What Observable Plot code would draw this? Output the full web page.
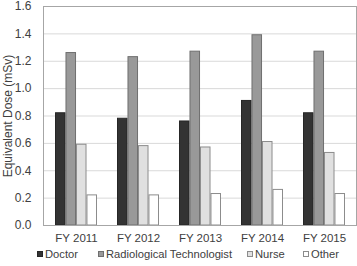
<!DOCTYPE html>
<html>
<head>
<meta charset="utf-8">
<script src="https://cdn.jsdelivr.net/npm/d3@7"></script>
<script src="https://cdn.jsdelivr.net/npm/@observablehq/plot@0.6"></script>
<style>
  html, body { margin: 0; padding: 0; background: #fff; }
  body { width: 357px; height: 266px; overflow: hidden; font-family: "Liberation Sans", Arial, sans-serif; }
  #legend { height: 21px; font-size: 11.2px; color: #404040; position: relative; }
  .item { position: absolute; display: flex; align-items: center; top: 3px; }
  .sw { width: 6px; height: 6px; box-sizing: border-box; margin-right: 2px; }
</style>
</head>
<body>
<div id="chart"></div>
<div id="legend"></div>
<script>
const years = ["FY 2011", "FY 2012", "FY 2013", "FY 2014", "FY 2015"];
const roles = ["Doctor", "Radiological Technologist", "Nurse", "Other"];
const doctor = [0.82, 0.78, 0.76, 0.91, 0.82];
const radiological = [1.26, 1.23, 1.27, 1.39, 1.27];
const nurse = [0.59, 0.58, 0.57, 0.61, 0.53];
const other = [0.22, 0.22, 0.23, 0.26, 0.23];
const yTicks = [0, 0.2, 0.4, 0.6, 0.8, 1.0, 1.2, 1.4, 1.6];
const fills = ["#333333", "#999999", "#e0e0e0", "#ffffff"];
const strokes = ["#262626", "#6f6f6f", "#8c8c8c", "#8c8c8c"];

const series = [doctor, radiological, nurse, other];

const W = 357, H = 245, ML = 43, MR = 1, MT = 6, MB = 20;
const padIn = 0.33, padOut = 0.165;
const bandScale = d3.scaleBand(years, [ML, W - MR]).paddingInner(padIn).paddingOuter(padOut);
const bw = bandScale.bandwidth() / roles.length;

const barMarks = series.map((vals, j) =>
  Plot.barY(years.map((y, i) => ({year: y, value: vals[i]})), {
    x: "year", y: "value",
    fill: fills[j], stroke: strokes[j], strokeWidth: 1,
    insetLeft: j * bw + 0.5, insetRight: (roles.length - 1 - j) * bw + 0.5
  })
);

const chart = Plot.plot({
  width: W,
  height: H,
  marginTop: MT,
  marginBottom: MB,
  marginLeft: ML,
  marginRight: MR,
  style: {fontFamily: "Liberation Sans, Arial, sans-serif", fontSize: "11px", color: "#404040"},
  x: {domain: years, paddingInner: padIn, paddingOuter: padOut, label: null},
  y: {domain: [0, 1.6]},
  marks: [
    Plot.gridY(yTicks, {stroke: "#d9d9d9", strokeOpacity: 1}),
    Plot.axisY(yTicks, {
      tickFormat: d3.format(".1f"), tickSize: 0, tickPadding: 12, fontSize: 12,
      label: "Equivalent Dose (mSv)", labelAnchor: "center", labelArrow: "none", labelOffset: 40
    }),
    Plot.axisX({tickSize: 0, tickPadding: 8, fontSize: 11.5, label: null}),
    ...barMarks,
    Plot.frame({stroke: "#a6a6a6"})
  ]
});
document.getElementById("chart").appendChild(chart);

const lefts = [37, 98, 247, 303];
const legend = document.getElementById("legend");
roles.forEach((r, j) => {
  const it = document.createElement("div");
  it.className = "item";
  it.style.left = lefts[j] + "px";
  const sw = document.createElement("span");
  sw.className = "sw";
  sw.style.background = fills[j];
  sw.style.border = "1px solid " + strokes[j];
  it.appendChild(sw);
  const t = document.createElement("span");
  t.textContent = r;
  it.appendChild(t);
  legend.appendChild(it);
});
</script>
</body>
</html>
